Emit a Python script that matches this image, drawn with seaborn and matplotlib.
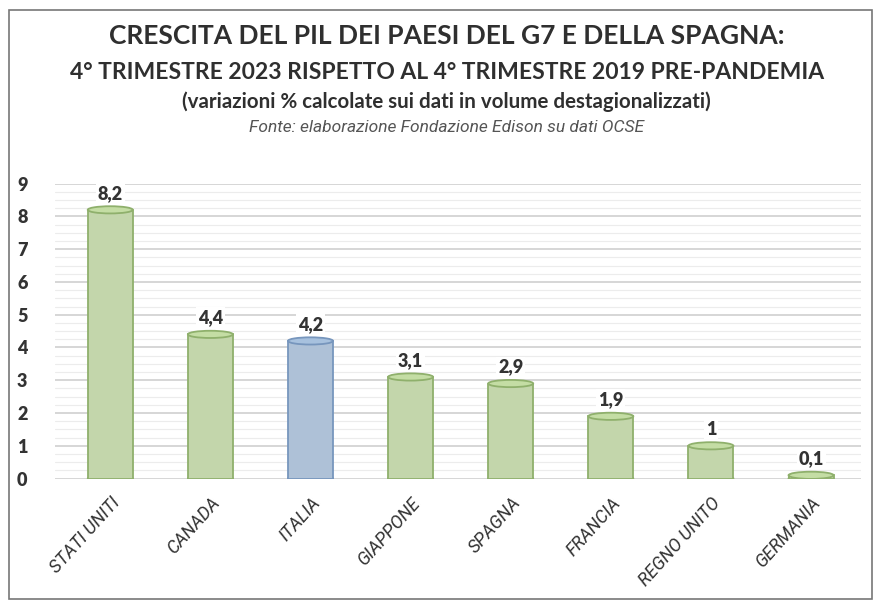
import numpy as np
import pandas as pd
import matplotlib.pyplot as plt
import seaborn as sns
from matplotlib.patches import Ellipse, Rectangle

# ── data ────────────────────────────────────────────
paesi = ["STATI UNITI", "CANADA", "ITALIA", "GIAPPONE",
         "SPAGNA", "FRANCIA", "REGNO UNITO", "GERMANIA"]
crescita = [8.2, 4.4, 4.2, 3.1, 2.9, 1.9, 1.0, 0.1]
etichette = ["8,2", "4,4", "4,2", "3,1", "2,9", "1,9", "1", "0,1"]
y_ticks = list(range(0, 10))

GREEN = "#c4dda4"
GREEN_EDGE = "#8fb06c"
BLUE = "#a7c1de"
BLUE_EDGE = "#7796bd"
TEXT = "#333333"
ITALIC_FONT = ["Roboto", "Liberation Sans", "DejaVu Sans"]

df = pd.DataFrame({"paese": paesi, "valore": crescita})
df["gruppo"] = np.where(df["paese"] == "ITALIA", "it", "altri")

sns.set_style("white")
plt.rcParams["font.family"] = ["Lato", "DejaVu Sans"]

fig = plt.figure(figsize=(8.76, 6.02), dpi=100)
fig.patch.set_facecolor("white")
ax = fig.add_axes([0.063, 0.205, 0.92, 0.49])

palette = {"altri": GREEN, "it": BLUE}
sns.barplot(data=df, x="paese", y="valore", hue="gruppo", palette=palette,
            dodge=False, width=0.45, legend=False, ax=ax, zorder=3)

# edges, cylinder caps and value labels
bar_w = 0.45
for patch in list(ax.patches):
    cx = patch.get_x() + patch.get_width() / 2
    i = int(round(cx))
    val = patch.get_height()
    if val == 0 or np.isnan(val):
        continue
    italia = paesi[i] == "ITALIA"
    edge = BLUE_EDGE if italia else GREEN_EDGE
    face = BLUE if italia else GREEN
    patch.set_edgecolor(edge)
    patch.set_linewidth(1.3)
    ax.add_patch(Ellipse((cx, val), bar_w, 0.22, facecolor=face,
                         edgecolor=edge, lw=1.3, zorder=4))
    ax.add_patch(Ellipse((cx, 0), bar_w, 0.22, facecolor=face,
                         edgecolor=edge, lw=1.3, zorder=2))
    ax.text(cx, val + 0.25, etichette[i], ha="center", va="bottom", fontsize=13,
            fontweight="heavy", color=TEXT, zorder=5,
            bbox=dict(boxstyle="square,pad=0.1", fc="white", ec="none"))

ax.set_ylim(0, 9)
ax.set_xlim(-0.55, 7.5)
ax.set_yticks(y_ticks)
ax.set_yticklabels([str(t) for t in y_ticks], fontsize=13, fontweight="heavy", color=TEXT)
ax.tick_params(axis="y", pad=20, length=0)
ax.tick_params(axis="x", length=0, pad=11)
ax.set_xticks(range(len(paesi)))
ax.set_xticklabels(paesi, rotation=48, ha="right", rotation_mode="anchor", color=TEXT)
for lab in ax.get_xticklabels():
    lab.set_family(ITALIC_FONT)
    lab.set_fontstyle("italic")
    lab.set_fontsize(13)
ax.set_xlabel("")
ax.set_ylabel("")

# striped back wall
ax.set_yticks(np.arange(0, 9.01, 0.25), minor=True)
ax.grid(True, axis="y", which="major", color="#cfcfcf", lw=1.2, zorder=0)
ax.grid(True, axis="y", which="minor", color="#ececec", lw=0.8, zorder=0)
ax.tick_params(axis="y", which="minor", length=0)
for s in ax.spines.values():
    s.set_visible(False)

# titles
fig.text(0.51, 0.94, "CRESCITA DEL PIL DEI PAESI DEL G7 E DELLA SPAGNA:",
         ha="center", va="center", fontsize=19, fontweight="bold", color="#2f2f2f")
fig.text(0.51, 0.879, "4° TRIMESTRE 2023 RISPETTO AL 4° TRIMESTRE 2019 PRE-PANDEMIA",
         ha="center", va="center", fontsize=16.5, fontweight="bold", color="#2f2f2f")
fig.text(0.51, 0.831, "(variazioni % calcolate sui dati in volume destagionalizzati)",
         ha="center", va="center", fontsize=14.8, fontweight="bold", color="#2f2f2f")
fig.text(0.51, 0.789, "Fonte: elaborazione Fondazione Edison su dati OCSE",
         ha="center", va="center", fontsize=12.5, fontstyle="italic",
         family=ITALIC_FONT, color="#555555")

# outer frame
fig.add_artist(Rectangle((0.01, 0.005), 0.985, 0.978, transform=fig.transFigure,
                         fill=False, ec="#777777", lw=1.2))

fig.savefig("out.png", dpi=100, facecolor="white")
